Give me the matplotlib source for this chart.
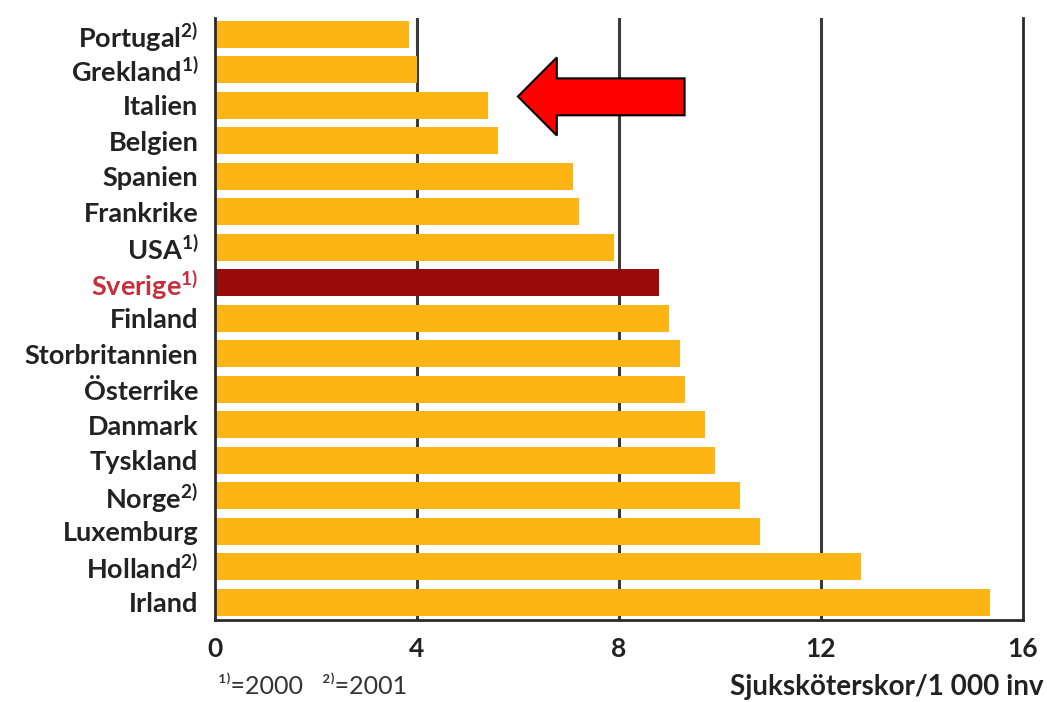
import matplotlib
matplotlib.use('Agg')
from matplotlib import pyplot as plt
from matplotlib.patches import Polygon

plt.rcParams['font.family'] = ['Lato', 'DejaVu Sans']
plt.rcParams['mathtext.fontset'] = 'custom'
plt.rcParams['mathtext.rm'] = 'Lato'
plt.rcParams['mathtext.it'] = 'Lato'
plt.rcParams['mathtext.bf'] = 'Lato:bold'

# nurses per 1000 inhabitants, top to bottom
countries = ['Portugal', 'Grekland', 'Italien', 'Belgien', 'Spanien', 'Frankrike',
             'USA', 'Sverige', 'Finland', 'Storbritannien', 'Österrike', 'Danmark',
             'Tyskland', 'Norge', 'Luxemburg', 'Holland', 'Irland']
notes = ['2)', '1)', '', '', '', '', '1)', '1)', '', '', '', '', '', '2)', '', '2)', '']
values = [3.85, 4.0, 5.4, 5.6, 7.1, 7.2, 7.9, 8.8, 9.0, 9.2, 9.3, 9.7, 9.9, 10.4, 10.8, 12.8, 15.35]
xticks = [0, 4, 8, 12, 16]

orange = '#fdb515'
sweden = '#9a0a0a'
colors = [sweden if c == 'Sverige' else orange for c in countries]

fig = plt.figure(figsize=(10.47, 7.02), dpi=100)
ax = fig.add_axes([0.2053, 0.1168, 0.7717, 0.857])

ypos = list(range(len(countries)))
for x in xticks[1:-1]:
    ax.axvline(x, color='#3a3a3a', lw=2.2, zorder=1)
ax.barh(ypos, values, height=0.76, color=colors, zorder=2)

ax.set_xlim(0, 16)
ax.set_ylim(16.5, -0.45)
ax.set_xticks(xticks)
ax.set_xticklabels([str(t) for t in xticks], fontsize=19, fontweight='bold', color='#222222')
ax.tick_params(axis='x', length=0, pad=12)

labels = []
for c, n in zip(countries, notes):
    if n:
        labels.append(c + r'$^{\mathregular{' + n + '}}$')
    else:
        labels.append(c)
ax.set_yticks(ypos)
ax.set_yticklabels(labels, fontsize=19.5, fontweight='bold', color='#222222')
ax.tick_params(axis='y', length=0, pad=12)
for lab, c in zip(ax.get_yticklabels(), countries):
    if c == 'Sverige':
        lab.set_color('#c4303c')

ax.spines['top'].set_visible(False)
for s in ['left', 'bottom', 'right']:
    ax.spines[s].set_color('#2a2a2a')
    ax.spines[s].set_linewidth(2)

# footnote and unit
fig.text(0.208, 0.012, '¹⁾=2000   ²⁾=2001', fontsize=18, color='#333333',
         family=['Lato', 'DejaVu Sans'])
fig.text(0.997, 0.01, 'Sjuksköterskor/1 000 inv', fontsize=20, fontweight='bold',
         color='#222222', ha='right')

# red arrow pointing at Italien
arrow = Polygon([(6.0, 1.75), (6.77, 0.65), (6.77, 1.24), (9.3, 1.24),
                 (9.3, 2.28), (6.77, 2.28), (6.77, 2.85)],
                closed=True, facecolor='#ff0000', edgecolor='black', lw=1.5,
                zorder=5, clip_on=False)
ax.add_patch(arrow)

fig.savefig('out.png', dpi=100, facecolor='white')
